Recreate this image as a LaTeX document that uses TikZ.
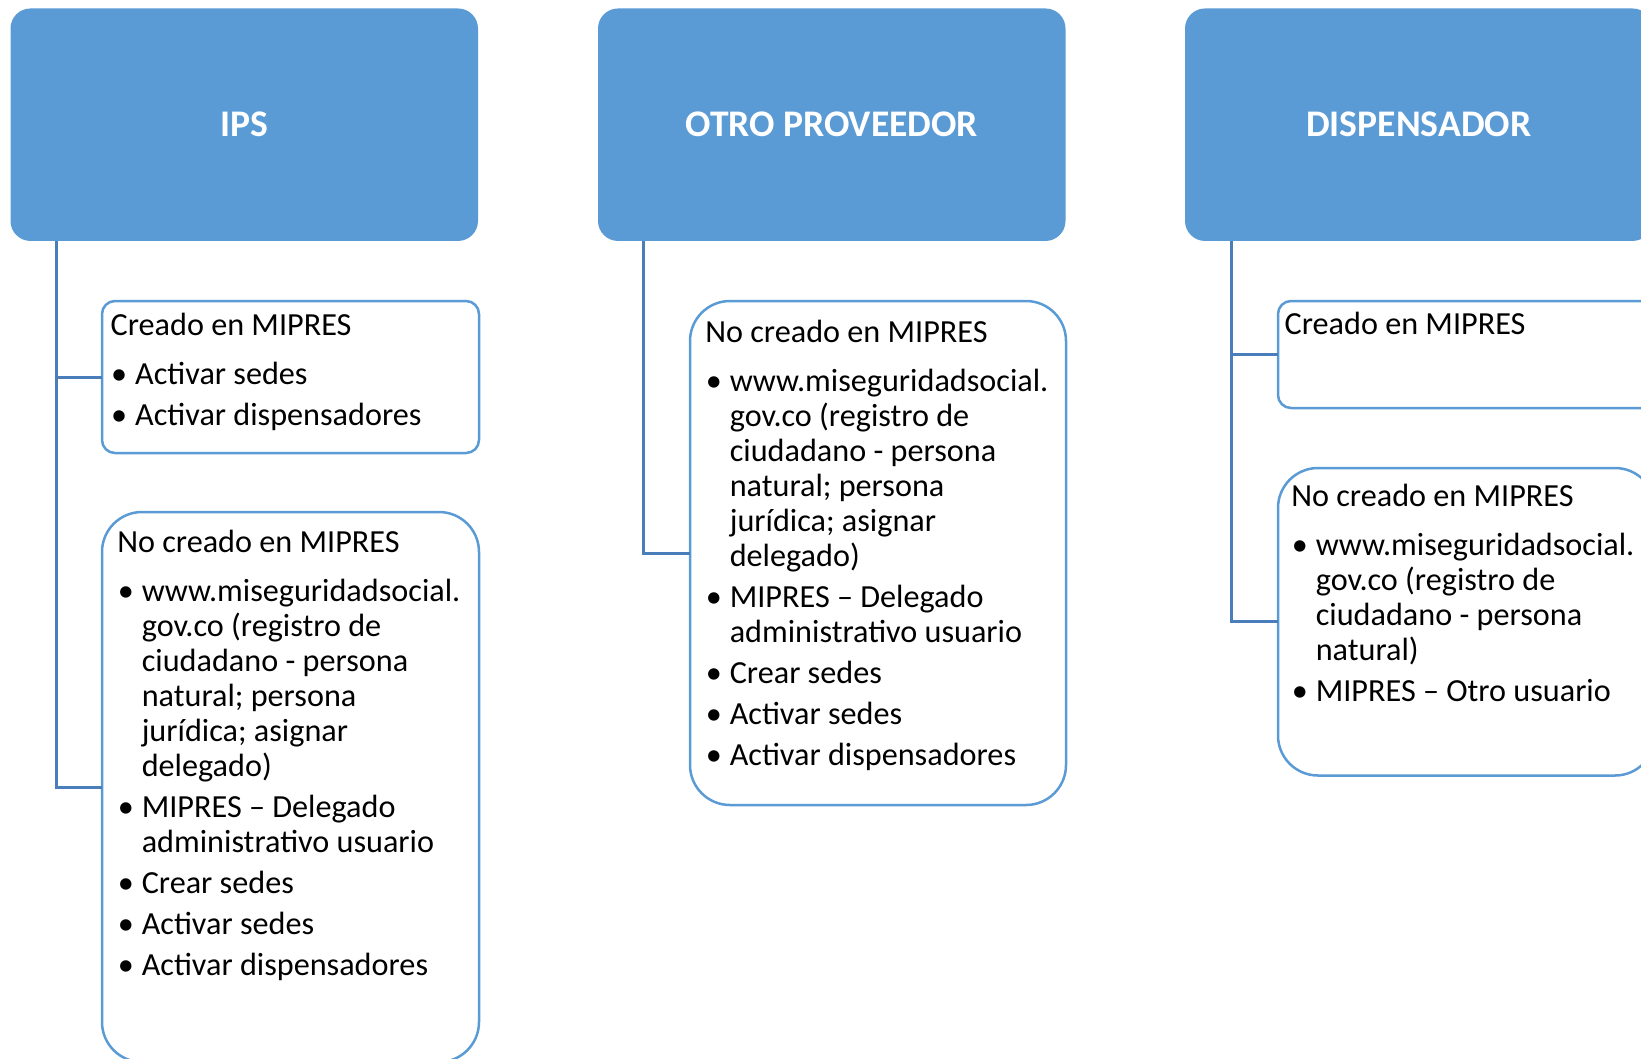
\documentclass[tikz,border=0pt]{standalone}
\usepackage{fontspec}
\setmainfont{Carlito}
\definecolor{hdrblue}{HTML}{5B9BD5}
\definecolor{lineblue}{HTML}{4A7EBB}
\newcommand\bul{\makebox[24.5pt][l]{\hspace{8.5pt}\makebox[0pt]{•}}}
\newcommand\ind{\hspace*{24.5pt}}
\begin{document}
\begin{tikzpicture}[x=1pt,y=-1pt,
 hdr/.style={rectangle, rounded corners=20pt, fill=hdrblue, draw=none, minimum width=467.5pt, minimum height=232.5pt, inner sep=0pt, outer sep=0pt, text=white, font=\fontsize{37.6pt}{44pt}\selectfont\bfseries},
 boxA/.style={rectangle, rounded corners=13pt, draw=hdrblue, line width=2.5pt, fill=white, inner sep=0pt, outer sep=0pt, anchor=north west},
 boxB/.style={boxA, rounded corners=40pt},
 txt/.style={anchor=base west, inner sep=0pt, outer sep=0pt, font=\fontsize{32.2pt}{35pt}\selectfont, text=black},
 conn/.style={draw=lineblue, line width=3pt}]
\useasboundingbox (0,0) rectangle (1641,1058);
\clip (0,0) rectangle (1641,1058);

% headers
\node[hdr] (ips) at (244.25,124.7) {IPS};
\node[hdr] (otro) at (831.75,124.7) {OTRO PROVEEDOR};
\node[hdr] (disp) at (1418.75,124.7) {DISPENSADOR};

% boxes
\node[boxA, minimum width=377pt, minimum height=152pt] (ipsA) at (102,301) {};
\node[boxB, minimum width=377pt, minimum height=550pt] (ipsB) at (102,512) {};
\node[boxB, minimum width=376pt, minimum height=504pt] (otroB) at (690,301) {};
\node[boxA, minimum width=377pt, minimum height=107pt] (dispA) at (1278,301) {};
\node[boxB, minimum width=377pt, minimum height=307.5pt] (dispB) at (1278,468) {};

% connectors
\draw[conn] ([xshift=45.5pt]ips.south west) |- (ipsB.west);
\draw[conn] ([xshift=45.5pt]ips.south west) |- (ipsA.west);
\draw[conn] ([xshift=45pt]otro.south west) |- (otroB.west);
\draw[conn] ([xshift=46pt]disp.south west) |- (dispB.west);
\draw[conn] ([xshift=46pt]disp.south west) |- (dispA.west);

% texts
\node[txt] (ipsAt) at (110.7,335) {\begin{tabular}[t]{@{}l@{}}
Creado en MIPRES\\[14pt]
\bul Activar sedes\\[6pt]
\bul Activar dispensadores
\end{tabular}};

\node[txt] (ipsBt) at (117.3,552) {\begin{tabular}[t]{@{}l@{}}
No creado en MIPRES\\[14pt]
\bul www.miseguridadsocial.\\
\ind gov.co (registro de\\
\ind ciudadano - persona\\
\ind natural; persona\\
\ind jurídica; asignar\\
\ind delegado)\\[6pt]
\bul MIPRES – Delegado\\
\ind administrativo usuario\\[6pt]
\bul Crear sedes\\[6pt]
\bul Activar sedes\\[6pt]
\bul Activar dispensadores
\end{tabular}};

\node[txt] (otroBt) at (705.3,342) {\begin{tabular}[t]{@{}l@{}}
No creado en MIPRES\\[14pt]
\bul www.miseguridadsocial.\\
\ind gov.co (registro de\\
\ind ciudadano - persona\\
\ind natural; persona\\
\ind jurídica; asignar\\
\ind delegado)\\[6pt]
\bul MIPRES – Delegado\\
\ind administrativo usuario\\[6pt]
\bul Crear sedes\\[6pt]
\bul Activar sedes\\[6pt]
\bul Activar dispensadores
\end{tabular}};

\node[txt] (dispAt) at (1284.7,334.5) {\begin{tabular}[t]{@{}l@{}}
Creado en MIPRES
\end{tabular}};

\node[txt] (dispBt) at (1291.3,506) {\begin{tabular}[t]{@{}l@{}}
No creado en MIPRES\\[14pt]
\bul www.miseguridadsocial.\\
\ind gov.co (registro de\\
\ind ciudadano - persona\\
\ind natural)\\[6pt]
\bul MIPRES – Otro usuario
\end{tabular}};
\end{tikzpicture}
\end{document}
